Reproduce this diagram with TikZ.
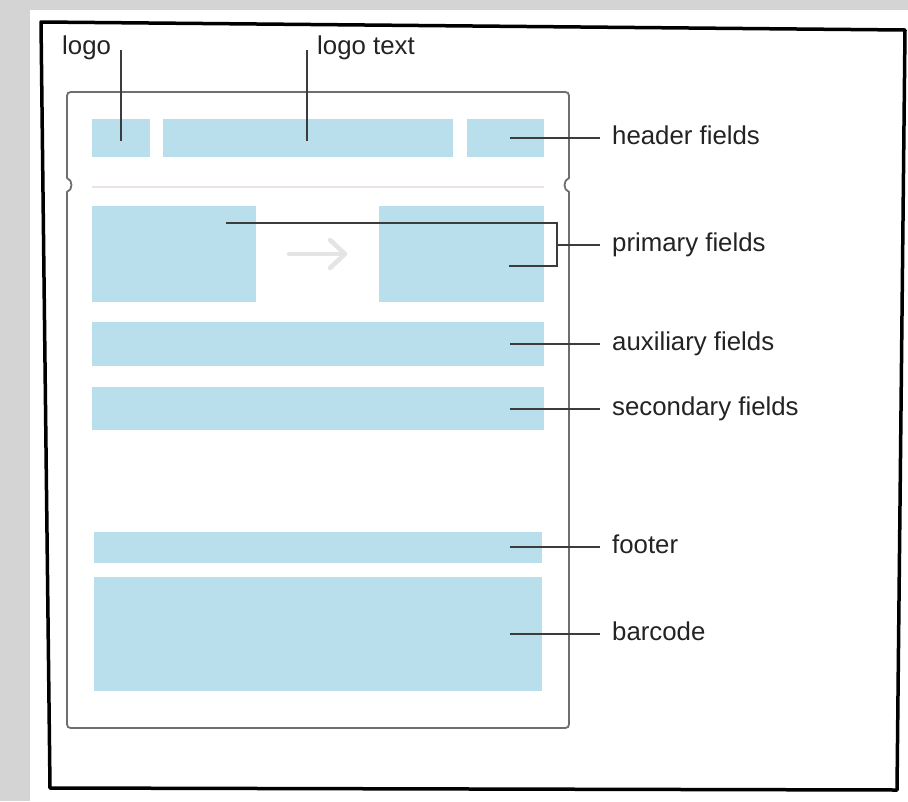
\documentclass[tikz,border=0pt]{standalone}
\usepackage{fontspec}
\setmainfont{Liberation Sans}
\usetikzlibrary{arrows.meta}
\definecolor{fieldblue}{RGB}{186,223,236}
\definecolor{leadgray}{RGB}{60,60,60}
\definecolor{cardgray}{RGB}{110,110,110}
\definecolor{bggray}{RGB}{212,212,212}
\definecolor{sepgray}{RGB}{236,228,228}
\definecolor{arrowgray}{RGB}{228,228,228}
\definecolor{txtgray}{RGB}{35,35,35}
\tikzset{
  field/.style={fill=fieldblue, draw=none, inner sep=0pt, outer sep=0pt},
  leader/.style={draw=leadgray, line width=1.9pt},
  lbl/.style={anchor=mid west, inner xsep=12pt, inner ysep=0pt, text=txtgray},
  toplbl/.style={anchor=base west, inner sep=0pt, text=txtgray},
  cardline/.style={draw=cardgray, line width=1.8pt},
}
\begin{document}
\begin{tikzpicture}[x=1pt, y=-1pt, execute at begin picture={\fontsize{25.8}{30}\selectfont}]
\useasboundingbox (0,0) rectangle (908,801);
% background and paper
\fill[bggray] (0,0) rectangle (908,801);
\fill[white] (30,10) -- (908,10) -- (908,801) -- (30,801) -- cycle;
% sketchy frame
\draw[line width=3.5pt, black, line join=round] (41,22) -- (905,30) -- (897,790) -- (50,788) -- cycle;
% card
\draw[cardline]
  (67,178) -- (67,100) .. controls (67,92) .. (75,92) -- (561,92)
  .. controls (569,92) .. (569,100) -- (569,178)
  .. controls (563,180) and (563,190) .. (569,192) -- (569,720)
  .. controls (569,728) .. (561,728) -- (75,728)
  .. controls (67,728) .. (67,720) -- (67,192)
  .. controls (73,190) and (73,180) .. (67,178);
% separator
\draw[sepgray, line width=1.6pt] (92,187) -- (544,187);
% fields
\node[field, minimum width=58pt, minimum height=38pt] (logo) at (121,138) {};
\node[field, minimum width=290pt, minimum height=38pt] (logotext) at (308,138) {};
\node[field, minimum width=77pt, minimum height=38pt] (hdr) at (505.5,138) {};
\node[field, minimum width=164pt, minimum height=96pt] (prim1) at (174,254) {};
\node[field, minimum width=165pt, minimum height=96pt] (prim2) at (461.5,254) {};
\node[field, minimum width=452pt, minimum height=44pt] (aux) at (318,344) {};
\node[field, minimum width=452pt, minimum height=43pt] (sec) at (318,408.5) {};
\node[field, minimum width=448pt, minimum height=31pt] (foot) at (318,547.5) {};
\node[field, minimum width=448pt, minimum height=114pt] (bar) at (318,634) {};
% arrow between primary fields
\draw[arrowgray, line width=4.5pt, line cap=round, line join=round] (289,254) -- (344,254);
\draw[arrowgray, line width=4.5pt, line cap=round, line join=round] (330,240) -- (345,254) -- (330,268);
% top labels
\node[toplbl] (logolbl) at (62,54) {logo};
\node[toplbl] (logotextlbl) at (317,54) {logo text};
\coordinate (logotop) at (121,50);
\coordinate (logopt) at (121,141);
\coordinate (logotexttop) at (307,50);
\coordinate (logotextpt) at (307,141);
\draw[leader] (logopt) -- (logotop);
\draw[leader] (logotextpt) -- (logotexttop);
% right labels
\node[lbl] (hdrlbl) at (600,138) {header fields};
\node[lbl] (primlbl) at (600,245) {primary fields};
\node[lbl] (auxlbl) at (600,344) {auxiliary fields};
\node[lbl] (seclbl) at (600,409) {secondary fields};
\node[lbl] (footlbl) at (600,547) {footer};
\node[lbl] (barlbl) at (600,634) {barcode};
\coordinate (hdrpt) at (510,138);
\coordinate (auxpt) at (510,344);
\coordinate (secpt) at (510,409);
\coordinate (footpt) at (510,547);
\coordinate (barpt) at (510,634);
\draw[leader] (hdrpt) -- (hdrlbl.mid west);
\draw[leader] (auxpt) -- (auxlbl.mid west);
\draw[leader] (secpt) -- (seclbl.mid west);
\draw[leader] (footpt) -- (footlbl.mid west);
\draw[leader] (barpt) -- (barlbl.mid west);
% primary bracket
\coordinate (prim1pt) at (226,223);
\coordinate (prim2pt) at (509,266);
\coordinate (brtop) at (557,223);
\coordinate (brbot) at (557,266);
\coordinate (brmid) at (557,245);
\draw[leader, line join=miter] (prim1pt) -- (brtop) -- (brbot) -- (prim2pt);
\draw[leader] (brmid) -- (primlbl.mid west);
\end{tikzpicture}
\end{document}
